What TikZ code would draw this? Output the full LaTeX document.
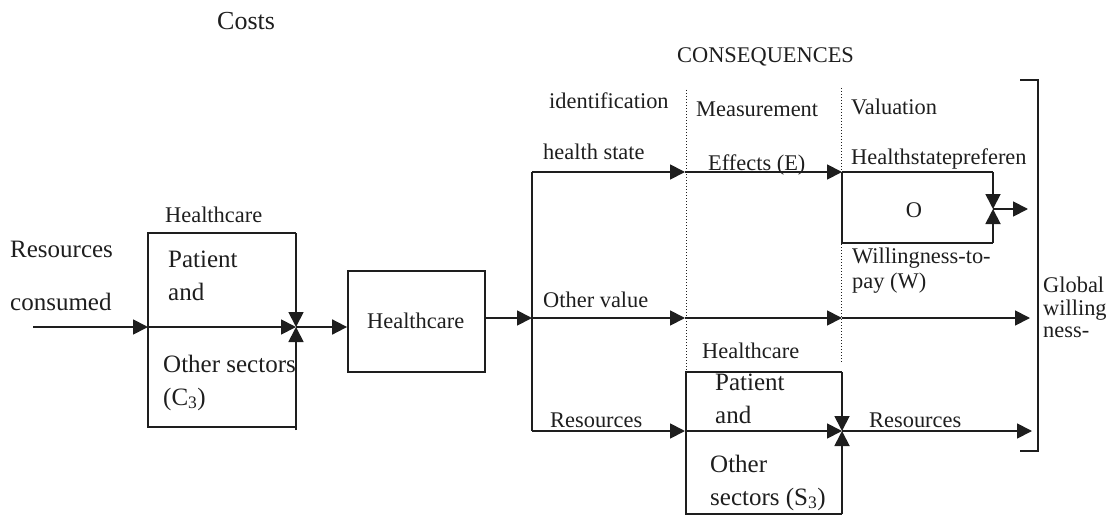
\documentclass[tikz,border=0pt]{standalone}
\usepackage{fontspec}
\setmainfont{Liberation Serif}
\usetikzlibrary{arrows.meta,calc}

\definecolor{ink}{HTML}{1E1E1E}

\tikzset{
  txt/.style={inner sep=0pt, anchor=base west, text=ink, font=\fontsize{22.4}{26}\selectfont},
  bigtxt/.style={txt, font=\fontsize{25}{29}\selectfont},
  wire/.style={draw=ink, line width=1.8pt, line join=miter},
  flow/.style={wire, -{Triangle[length=15pt,width=15pt]}},
  guide/.style={draw=ink, line width=0.9pt, dash pattern=on 0.9pt off 2.1pt},
  boxnode/.style={draw=ink, line width=1.8pt, inner sep=0pt, text=ink,
    font=\fontsize{22.4}{26}\selectfont}
}

\begin{document}
\begin{tikzpicture}[x=1pt, y=-1pt]
\useasboundingbox (0,0) rectangle (1110,516);

% ---------- headings ----------
\node[txt, font=\fontsize{26}{30}\selectfont] (costs) at (217,30) {Costs};
\node[txt] (cons) at (677,63) {CONSEQUENCES};
\node[txt] (ident) at (549,109) {identification};
\node[txt] (meas) at (696,117) {Measurement};
\node[txt] (valu) at (851,114) {Valuation};

% ---------- cost side ----------
\node[bigtxt] (res1) at (10,257) {Resources};
\node[bigtxt] (res2) at (10,310) {consumed};
\node[txt] (hcA) at (165,222) {Healthcare};
\node[bigtxt] (patA) at (168,267) {Patient};
\node[bigtxt] (andA) at (168,300) {and};
\node[bigtxt] (othA) at (163,372) {Other sectors};
\node[bigtxt] (cA) at (163,405) {(C\textsubscript{3})};

\coordinate (in0) at (33,327);
\coordinate (lbw) at (148,327);
\coordinate (lbe) at (296,327);
\coordinate (lbnw) at (148,233);
\coordinate (lbne) at (296,233);
\coordinate (lbsw) at (148,427);
\coordinate (lbse) at (296,427);

\draw[wire] (lbne) -- (lbnw) -- (lbsw) -- (lbse);
\draw[flow] (in0) -- (lbw);
\draw[flow] (lbw) -- (lbe);
\draw[flow] (lbne) -- (lbe);
\draw[flow] ($(lbse)+(0,3)$) -- (lbe);

% central healthcare box
\node[boxnode, minimum width=137pt, minimum height=101pt] (hc) at (416.5,321.5) {};
\node[txt] (hcT) at (367,328) {Healthcare};
\draw[flow] (lbe) -- (hc.west |- lbe);

% ---------- consequence branches ----------
\coordinate (spT) at (532,172);
\coordinate (spM) at (532,318);
\coordinate (spB) at (532,431);
\coordinate (mT) at (685,172);
\coordinate (mM) at (685,318);
\coordinate (mB) at (685,431);
\coordinate (vT) at (842,172);
\coordinate (vM) at (842,318);
\coordinate (vB) at (842,431);
\coordinate (endM) at (1030,318);
\coordinate (endB) at (1032,431);

\draw[flow] (hc.east |- spM) -- (spM);
\draw[wire] (spT) -- (spB);

\draw[flow] (spT) -- (mT);
\draw[flow] (mT) -- (vT);
\draw[flow] (spM) -- (mM);
\draw[flow] (mM) -- (vM);
\draw[flow] (vM) -- (endM);
\draw[flow] (spB) -- (mB);
\draw[flow] (mB) -- (vB);
\draw[flow] (vB) -- (endB);

\node[txt] (hs) at (543,159) {health state};
\node[txt] (eff) at (708,170) {Effects (E)};
\node[txt] (ov) at (543,307) {Other value};
\node[txt] (resL) at (550,427) {Resources};
\node[txt] (resR) at (869,427) {Resources};

% valuation box O
\coordinate (obne) at (993,172);
\coordinate (obsw) at (842,243);
\coordinate (obse) at (993,243);
\coordinate (obj) at (993,209);
\coordinate (obout) at (1028,209);
\draw[wire] (vT) -- (obne);
\draw[flow] (obne) -- (obj);
\draw[wire] (vT) -- (obsw) -- (obse);
\draw[flow] (obse) -- (obj);
\draw[flow] (obj) -- (obout);

\node[txt] (hsp) at (851,164) {Healthstatepreferen};
\node[txt, anchor=base] (O) at (914,217) {O};
\node[txt] (wtp1) at (852,263) {Willingness-to-};
\node[txt] (wtp2) at (852,288) {pay (W)};

% lower healthcare box
\coordinate (bbnw) at (686,372);
\coordinate (bbne) at (842,372);
\coordinate (bbsw) at (686,514);
\coordinate (bbse) at (842,514);
\draw[wire] (bbse) -- (bbsw) -- (bbnw) -- (bbne);
\draw[flow] (bbne) -- (vB);
\draw[flow] (bbse) -- (vB);

\node[txt] (hcB) at (702,358) {Healthcare};
\node[bigtxt] (patB) at (715,390) {Patient};
\node[bigtxt] (andB) at (715,423) {and};
\node[bigtxt] (othB) at (710,472) {Other};
\node[bigtxt] (secB) at (710,505) {sectors (S\textsubscript{3})};

% stage separators
\coordinate (g1t) at (686,90);
\coordinate (g2t) at (841,88);
\coordinate (g2b) at (841,363);
\draw[guide] (g1t) -- (bbnw);
\draw[guide] (g2t) -- (g2b);

% closing bracket
\coordinate (brt0) at (1020,80);
\coordinate (brt) at (1038,80);
\coordinate (brb) at (1038,451);
\coordinate (brb0) at (1020,451);
\draw[wire, line width=1.5pt] (brt0) -- (brt) -- (brb) -- (brb0);

\node[txt] (gl1) at (1043,292) {Global};
\node[txt] (gl2) at (1043,315) {willing};
\node[txt] (gl3) at (1043,337) {ness-};
\end{tikzpicture}
\end{document}
